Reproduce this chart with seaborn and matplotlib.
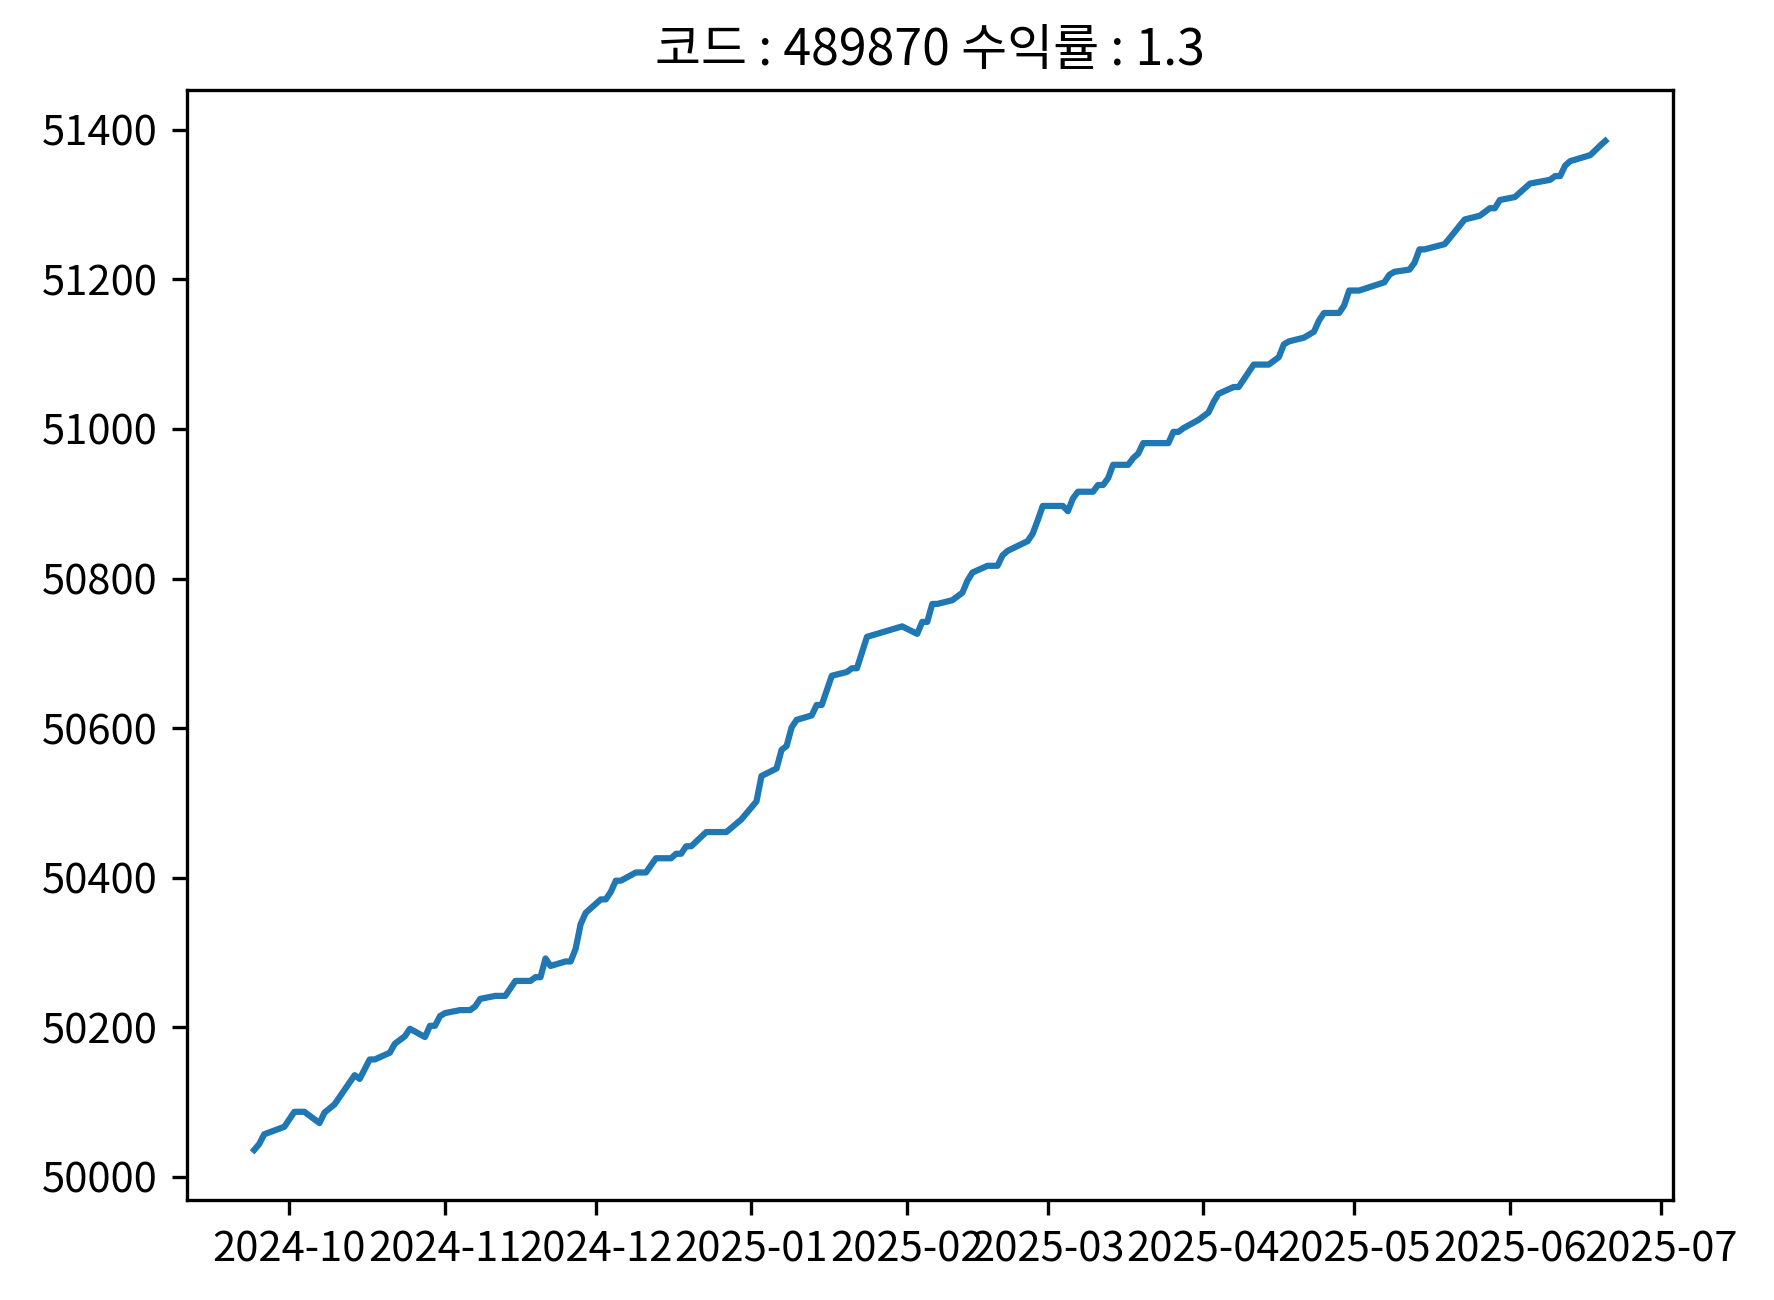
import pandas as pd
import matplotlib
matplotlib.use('Agg')
import matplotlib.pyplot as plt
import seaborn as sns

#korean font for the title
plt.rcParams['font.family'] = ['Noto Sans CJK KR', 'DejaVu Sans']

#price vertices
dates = ['2024-09-24', '2024-09-25', '2024-09-26', '2024-09-30', '2024-10-02', '2024-10-04',
         '2024-10-07', '2024-10-08', '2024-10-10', '2024-10-14', '2024-10-15', '2024-10-17',
         '2024-10-18', '2024-10-21', '2024-10-22', '2024-10-24', '2024-10-25', '2024-10-28',
         '2024-10-29', '2024-10-30', '2024-10-31', '2024-11-01', '2024-11-04', '2024-11-06',
         '2024-11-07', '2024-11-08', '2024-11-11', '2024-11-13', '2024-11-15', '2024-11-18',
         '2024-11-19', '2024-11-20', '2024-11-21', '2024-11-22', '2024-11-25', '2024-11-26',
         '2024-11-27', '2024-11-28', '2024-11-29', '2024-12-02', '2024-12-03', '2024-12-04',
         '2024-12-05', '2024-12-06', '2024-12-09', '2024-12-11', '2024-12-13', '2024-12-16',
         '2024-12-17', '2024-12-18', '2024-12-19', '2024-12-20', '2024-12-23', '2024-12-27',
         '2024-12-30', '2025-01-02', '2025-01-03', '2025-01-06', '2025-01-07', '2025-01-08',
         '2025-01-09', '2025-01-10', '2025-01-13', '2025-01-14', '2025-01-15', '2025-01-17',
         '2025-01-20', '2025-01-21', '2025-01-22', '2025-01-24', '2025-01-31', '2025-02-03',
         '2025-02-04', '2025-02-05', '2025-02-06', '2025-02-07', '2025-02-10', '2025-02-12',
         '2025-02-13', '2025-02-14', '2025-02-17', '2025-02-19', '2025-02-20', '2025-02-21',
         '2025-02-25', '2025-02-26', '2025-02-27', '2025-02-28', '2025-03-04', '2025-03-05',
         '2025-03-06', '2025-03-07', '2025-03-10', '2025-03-11', '2025-03-12', '2025-03-13',
         '2025-03-14', '2025-03-17', '2025-03-18', '2025-03-19', '2025-03-20', '2025-03-25',
         '2025-03-26', '2025-03-27', '2025-03-28', '2025-03-31', '2025-04-02', '2025-04-03',
         '2025-04-04', '2025-04-07', '2025-04-08', '2025-04-11', '2025-04-14', '2025-04-16',
         '2025-04-17', '2025-04-18', '2025-04-21', '2025-04-23', '2025-04-24', '2025-04-25',
         '2025-04-28', '2025-04-29', '2025-04-30', '2025-05-02', '2025-05-07', '2025-05-08',
         '2025-05-09', '2025-05-12', '2025-05-13', '2025-05-14', '2025-05-15', '2025-05-19',
         '2025-05-20', '2025-05-23', '2025-05-26', '2025-05-28', '2025-05-29', '2025-05-30',
         '2025-06-02', '2025-06-05', '2025-06-09', '2025-06-10', '2025-06-11', '2025-06-12',
         '2025-06-13', '2025-06-17', '2025-06-19', '2025-06-20']

prices = [50036, 50044, 50057, 50067, 50087, 50087,
          50072, 50086, 50097, 50136, 50131, 50157,
          50157, 50166, 50178, 50188, 50198, 50187,
          50202, 50202, 50215, 50219, 50223, 50223,
          50228, 50238, 50242, 50242, 50262, 50262,
          50267, 50267, 50292, 50282, 50288, 50288,
          50305, 50338, 50353, 50371, 50371, 50381,
          50396, 50396, 50407, 50407, 50426, 50426,
          50432, 50432, 50442, 50442, 50461, 50461,
          50478, 50502, 50536, 50546, 50571, 50576,
          50601, 50611, 50617, 50631, 50631, 50670,
          50675, 50680, 50680, 50722, 50736, 50726,
          50742, 50742, 50766, 50766, 50771, 50781,
          50797, 50808, 50817, 50817, 50831, 50837,
          50850, 50860, 50878, 50897, 50897, 50890,
          50907, 50916, 50916, 50925, 50925, 50934,
          50952, 50952, 50961, 50967, 50981, 50981,
          50996, 50996, 51001, 51012, 51022, 51036,
          51047, 51056, 51056, 51086, 51086, 51096,
          51113, 51117, 51122, 51130, 51145, 51155,
          51155, 51165, 51185, 51185, 51196, 51206,
          51210, 51213, 51222, 51240, 51240, 51247,
          51255, 51280, 51285, 51295, 51295, 51306,
          51310, 51328, 51333, 51338, 51338, 51352,
          51358, 51366, 51379, 51385]

code = '489870'
rate = 1.3

df = pd.DataFrame({'date': pd.to_datetime(dates), 'price': prices})

fig = plt.figure(figsize=(1774/300, 1300/300), dpi=300)
ax = fig.add_axes([0.1052, 0.0766, 0.8378, 0.8538])

sns.lineplot(data=df, x='date', y='price', ax=ax, color='#1f77b4', linewidth=1.5)

ax.set_xlabel('')
ax.set_ylabel('')
ax.set_title('코드 : ' + code + ' 수익률 : ' + str(rate))

fig.savefig('out.png', dpi=300)
